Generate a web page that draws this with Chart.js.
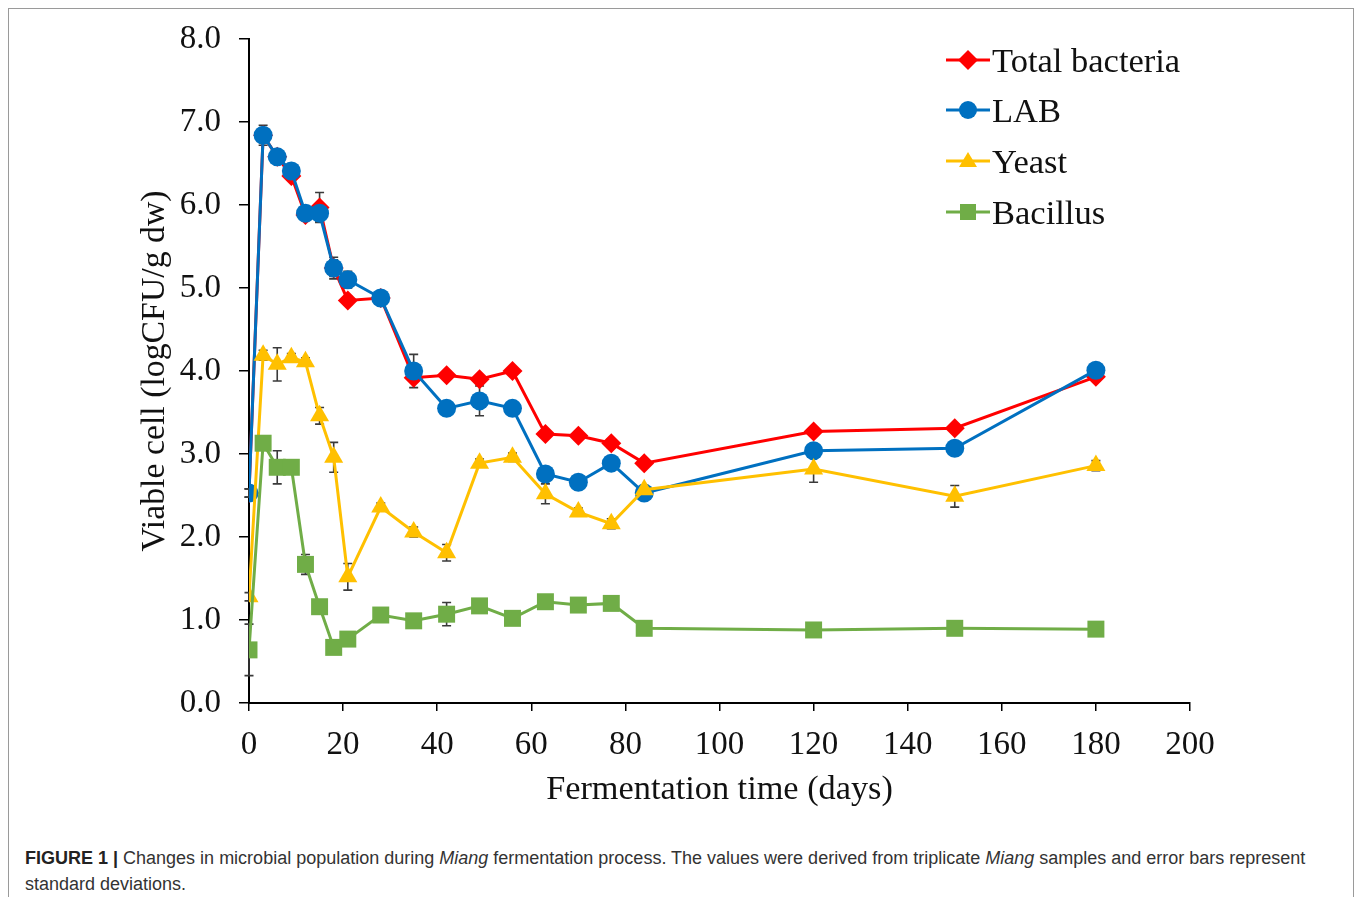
<!DOCTYPE html>
<html>
<head>
<meta charset="utf-8">
<script src="https://cdn.jsdelivr.net/npm/chart.js@4/dist/chart.umd.min.js"></script>
<style>
  html, body { margin: 0; padding: 0; background: #fff; }
  body { width: 1357px; height: 897px; position: relative; overflow: hidden; }
  #frame { position: absolute; left: 8px; top: 8px; width: 1346px; height: 960px; border: 1px solid #9a9a9a; box-sizing: border-box; }
  #wrap { position: absolute; left: 0; top: 0; width: 1357px; height: 830px; }
  #legend { position: absolute; left: 946px; top: 0; font-family: "Liberation Serif", "Times New Roman", serif; font-size: 34.5px; color: #111; }
  .item { position: absolute; left: 0; height: 40px; display: flex; align-items: center; white-space: nowrap; }
  .item canvas { width: 44px; height: 24px; margin-right: 2px; }
  #caption { position: absolute; left: 25px; top: 845px; font-family: "Liberation Sans", Arial, sans-serif; font-size: 18px; line-height: 26px; color: #333; white-space: nowrap; }
  #caption b { color: #222; }
</style>
</head>
<body>
<div id="frame"></div>
<div id="wrap"><canvas id="chart" width="1357" height="830"></canvas></div>
<div id="legend"></div>
<div id="caption"><b>FIGURE 1 |</b> Changes in microbial population during <i>Miang</i> fermentation process. The values were derived from triplicate <i>Miang</i> samples and error bars represent<br>standard deviations.</div>
<script>
// Sampling days of the fermentation
const days = [0, 3, 6, 9, 12, 15, 18, 21, 28, 35, 42, 49, 56, 63, 70, 77, 84, 120, 150, 180];

// Viable counts, log CFU/g dry weight
const totalBacteria = [2.53, 6.84, 6.58, 6.35, 5.88, 5.97, 5.24, 4.85, 4.88, 3.92, 3.95, 3.90, 4.00, 3.24, 3.22, 3.13, 2.89, 3.27, 3.31, 3.93];
const lab           = [2.53, 6.84, 6.58, 6.41, 5.90, 5.90, 5.24, 5.10, 4.88, 4.00, 3.55, 3.64, 3.55, 2.76, 2.66, 2.89, 2.53, 3.04, 3.07, 4.01];
const yeast         = [1.28, 4.19, 4.08, 4.16, 4.11, 3.46, 2.96, 1.52, 2.36, 2.06, 1.81, 2.89, 2.96, 2.52, 2.30, 2.16, 2.57, 2.82, 2.49, 2.86];
const bacillus      = [0.64, 3.13, 2.84, 2.84, 1.67, 1.16, 0.67, 0.77, 1.06, 0.99, 1.07, 1.17, 1.02, 1.22, 1.18, 1.20, 0.90, 0.88, 0.90, 0.89];

// Standard deviations (triplicate samples)
const totalBacteriaSD = [0.05, 0.12, 0.06, 0.05, 0.05, 0.18, 0.10, 0.05, 0.05, 0.05, 0.05, 0.05, 0.05, 0.05, 0.05, 0.05, 0.05, 0.05, 0.05, 0.05];
const labSD           = [0.05, 0.08, 0.05, 0.05, 0.05, 0.10, 0.13, 0.10, 0.05, 0.20, 0.05, 0.18, 0.05, 0.05, 0.05, 0.05, 0.05, 0.05, 0.07, 0.05];
const yeastSD         = [0.05, 0.06, 0.20, 0.05, 0.05, 0.10, 0.18, 0.16, 0.05, 0.06, 0.10, 0.05, 0.05, 0.12, 0.05, 0.06, 0.05, 0.16, 0.13, 0.06];
const bacillusSD      = [0.31, 0.05, 0.20, 0.05, 0.12, 0.05, 0.05, 0.05, 0.05, 0.05, 0.14, 0.05, 0.05, 0.05, 0.05, 0.05, 0.05, 0.05, 0.05, 0.05];

const seriesNames = ['Total bacteria', 'LAB', 'Yeast', 'Bacillus'];
const xTicks = [0, 20, 40, 60, 80, 100, 120, 140, 160, 180, 200];

const SERIF = '"Liberation Serif", "Times New Roman", serif';

function points(values) {
  return days.map((d, i) => ({ x: d, y: values[i] }));
}

const styles = [
  { color: '#FF0000', pointStyle: 'rectRot', radius: 10, order: 4 },
  { color: '#0070C0', pointStyle: 'circle', radius: 9.5, order: 3 },
  { color: '#FFC000', pointStyle: 'triangle', radius: 11, order: 2 },
  { color: '#70AD47', pointStyle: 'rect', radius: 12, order: 1 }
];
const seriesValues = [totalBacteria, lab, yeast, bacillus];
const seriesSD = [totalBacteriaSD, labSD, yeastSD, bacillusSD];

const datasets = seriesValues.map((vals, i) => ({
  label: seriesNames[i],
  data: points(vals),
  sd: seriesSD[i],
  showLine: true,
  borderColor: styles[i].color,
  backgroundColor: styles[i].color,
  pointBackgroundColor: styles[i].color,
  pointBorderColor: styles[i].color,
  pointBorderWidth: 0,
  pointStyle: styles[i].pointStyle,
  pointRadius: styles[i].radius,
  pointHoverRadius: styles[i].radius,
  borderWidth: 3,
  tension: 0,
  order: styles[i].order
}));

// Vertical error bars with end caps, drawn beneath the markers
const errorBars = {
  id: 'errorBars',
  beforeDatasetsDraw(chart) {
    const ctx = chart.ctx;
    const yScale = chart.scales.y;
    ctx.save();
    ctx.strokeStyle = '#3a3a3a';
    ctx.lineWidth = 1.6;
    chart.data.datasets.forEach((ds, di) => {
      const meta = chart.getDatasetMeta(di);
      meta.data.forEach((pt, j) => {
        const v = ds.data[j].y;
        const s = ds.sd[j];
        const yTop = yScale.getPixelForValue(v + s);
        const yBot = yScale.getPixelForValue(v - s);
        const x = pt.x;
        ctx.beginPath();
        ctx.moveTo(x, yTop); ctx.lineTo(x, yBot);
        ctx.moveTo(x - 4.5, yTop); ctx.lineTo(x + 4.5, yTop);
        ctx.moveTo(x - 4.5, yBot); ctx.lineTo(x + 4.5, yBot);
        ctx.stroke();
      });
    });
    ctx.restore();
  }
};

new Chart(document.getElementById('chart'), {
  type: 'scatter',
  data: { datasets },
  plugins: [errorBars],
  options: {
    responsive: false,
    animation: false,
    layout: { padding: { top: 39, right: 167, left: 0, bottom: 0 } },
    plugins: { legend: { display: false }, tooltip: { enabled: false } },
    scales: {
      x: {
        type: 'linear',
        min: 0, max: 200,
        afterBuildTicks(scale) { scale.ticks = xTicks.map(v => ({ value: v })); },
        afterFit(scale) { scale.height = 127; },
        grid: { display: true, drawOnChartArea: false, drawTicks: true, tickLength: 8, color: '#000', lineWidth: 1.5 },
        border: { display: true, color: '#000', width: 2 },
        ticks: { color: '#111', font: { family: SERIF, size: 33 }, padding: 15, maxRotation: 0, autoSkip: false },
        title: { display: true, text: 'Fermentation time (days)', color: '#111', font: { family: SERIF, size: 34.3 }, padding: { top: 0, bottom: 19 } }
      },
      y: {
        min: 0, max: 8,
        afterFit(scale) { scale.width = 249; },
        grid: { display: true, drawOnChartArea: false, drawTicks: true, tickLength: 10, color: '#000', lineWidth: 1.5 },
        border: { display: true, color: '#000', width: 2 },
        ticks: { stepSize: 1, color: '#111', font: { family: SERIF, size: 33 }, padding: 18, callback: v => Number(v).toFixed(1) },
        title: { display: true, text: 'Viable cell (logCFU/g dw)', color: '#111', font: { family: SERIF, size: 33.8 }, padding: { top: 135, bottom: 0 } }
      }
    }
  }
});

// Legend: line with marker, followed by the series name
const legend = document.getElementById('legend');
const legendRows = [60, 110, 161, 212];
seriesNames.forEach((name, i) => {
  const row = document.createElement('div');
  row.className = 'item';
  row.style.top = (legendRows[i] - 20) + 'px';
  const c = document.createElement('canvas');
  c.width = 44; c.height = 24;
  const g = c.getContext('2d');
  const col = styles[i].color;
  g.strokeStyle = col; g.fillStyle = col; g.lineWidth = 3;
  g.beginPath(); g.moveTo(0, 12); g.lineTo(44, 12); g.stroke();
  g.beginPath();
  const cx = 22, cy = 12;
  if (styles[i].pointStyle === 'rectRot') { g.moveTo(cx, cy - 10); g.lineTo(cx + 10, cy); g.lineTo(cx, cy + 10); g.lineTo(cx - 10, cy); }
  else if (styles[i].pointStyle === 'circle') { g.arc(cx, cy, 9, 0, Math.PI * 2); }
  else if (styles[i].pointStyle === 'triangle') { g.moveTo(cx, cy - 9); g.lineTo(cx + 9, cy + 6); g.lineTo(cx - 9, cy + 6); }
  else { g.rect(cx - 8, cy - 8, 16, 16); }
  g.closePath(); g.fill();
  row.appendChild(c);
  const t = document.createElement('span');
  t.textContent = name;
  row.appendChild(t);
  legend.appendChild(row);
});
</script>
</body>
</html>
